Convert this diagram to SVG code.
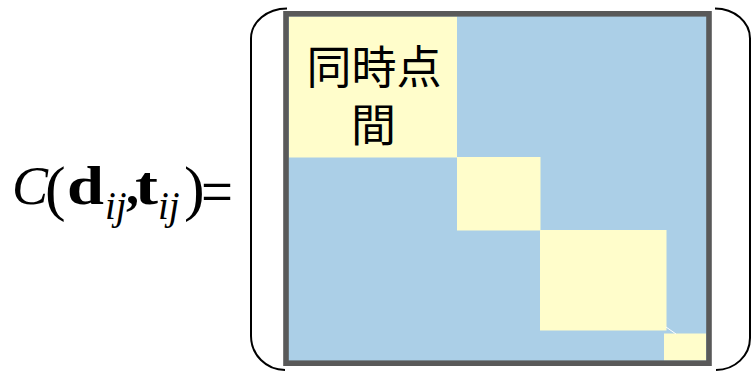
<svg xmlns="http://www.w3.org/2000/svg" width="751" height="371" viewBox="0 0 751 371">
  <style>
    .serif { font-family: "Liberation Serif", "Times New Roman", serif; fill: #000; }
    .it { font-style: italic; }
    .bd { font-weight: bold; }
    .sub { font-style: italic; font-size: 39px; font-weight: normal; }
    .blue { fill: #ABCFE7; }
    .yel { fill: #FFFDCB; }
    .brk { fill: none; stroke: #000; stroke-width: 2; }
    .cjk { font-family: "Noto Sans CJK JP", "Noto Sans CJK SC", sans-serif; font-size: 45px; fill: #000; text-anchor: middle; }
  </style>
  <rect width="751" height="371" fill="#fff"/>
  <g id="formula">
    <text class="serif" font-size="54"><tspan class="it" x="12" y="204">C</tspan><tspan x="45" y="209" font-size="62">(</tspan><tspan class="bd" x="67" y="204" textLength="37" lengthAdjust="spacingAndGlyphs">d</tspan><tspan class="sub" x="105" y="219">ij</tspan><tspan class="bd" x="126" y="204" font-size="52">,</tspan><tspan class="bd" x="135" y="204" textLength="23" lengthAdjust="spacingAndGlyphs">t</tspan><tspan class="sub" x="158" y="219">ij</tspan><tspan x="184" y="209" font-size="62">)</tspan><tspan x="201" y="214" font-size="66" textLength="32" lengthAdjust="spacingAndGlyphs">=</tspan></text>
  </g>
  <g id="matrix">
    <rect class="blue" x="286" y="14" width="423" height="349"/>
    <rect class="yel" x="289" y="16.5" width="168" height="141"/>
    <rect class="yel" x="457" y="157" width="83.5" height="73.5"/>
    <rect class="yel" x="540" y="230" width="126.5" height="100.5"/>
    <rect class="yel" x="664" y="333.5" width="42" height="27"/>
    <line x1="666" y1="327" x2="676" y2="334" stroke="#fff" stroke-width="1"/>
    <rect x="286" y="13.8" width="423" height="349.4" fill="none" stroke="#595959" stroke-width="5.6"/>
  </g>
  <g id="label">
    <text class="cjk" x="374" y="84">同時点</text>
    <text class="cjk" x="373.5" y="142">間</text>
  </g>
  <g id="brackets">
    <path class="brk" d="M 287 8.5 A 36 30 0 0 0 251 38.5 L 251 336 A 34 34 0 0 0 285 370"/>
    <path class="brk" d="M 715 8.5 A 35 30 0 0 1 750 38.5 L 750 338 A 34 32 0 0 1 716 370"/>
  </g>
</svg>
